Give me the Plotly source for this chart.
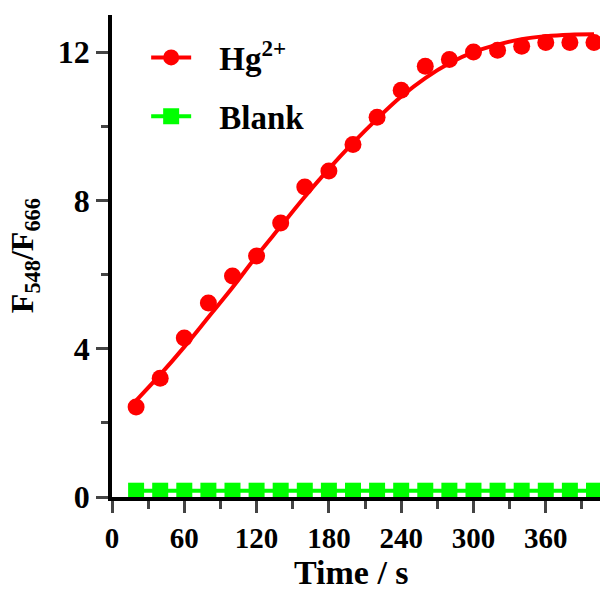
import plotly.graph_objects as go

time_s = [20, 40, 60, 80, 100, 120, 140, 160, 180, 200,
          220, 240, 260, 280, 300, 320, 340, 360, 380, 400]
hg_ratio = [2.43, 3.20, 4.29, 5.23, 5.96, 6.50, 7.39, 8.36, 8.79, 9.51,
            10.24, 10.97, 11.62, 11.80, 12.00, 12.05, 12.16, 12.26, 12.26, 12.26]
hg_fit = [2.60, 3.30, 4.05, 4.85, 5.65, 6.50, 7.30, 8.10, 8.85, 9.55,
          10.20, 10.80, 11.30, 11.70, 12.00, 12.20, 12.35, 12.43, 12.47, 12.48]
blank_ratio = [0.17, 0.17, 0.17, 0.17, 0.17, 0.17, 0.17, 0.17, 0.17, 0.17,
               0.17, 0.17, 0.17, 0.17, 0.17, 0.17, 0.17, 0.17, 0.17, 0.17]

x_ticks = [0, 60, 120, 180, 240, 300, 360]
y_ticks = [0, 4, 8, 12]

RED = "#ff0000"
GREEN = "#00ff00"
FONT = "Liberation Serif"
PAD = "\u2002\u2009"

fig = go.Figure()
fig.add_trace(go.Scatter(x=time_s, y=hg_fit, mode="lines", line=dict(color=RED, width=4, shape="spline"),
                         showlegend=False, cliponaxis=False))
fig.add_trace(go.Scatter(x=time_s, y=hg_ratio, mode="markers", marker=dict(color=RED, size=17, symbol="circle"),
                         showlegend=False, cliponaxis=False))
fig.add_trace(go.Scatter(x=[None], y=[None], mode="lines+markers", name=PAD + "Hg<sup>2+</sup>",
                         line=dict(color=RED, width=4), marker=dict(color=RED, size=17, symbol="circle"),
                         legendgroup="a"))
fig.add_trace(go.Scatter(x=time_s, y=blank_ratio, mode="lines+markers", name=PAD + "Blank",
                         line=dict(color=GREEN, width=4), marker=dict(color=GREEN, size=16, symbol="square"),
                         cliponaxis=False, legendgroup="b"))

fig.update_layout(
    width=600, height=593,
    margin=dict(l=112, r=0, t=15, b=96),
    paper_bgcolor="white", plot_bgcolor="white",
    font=dict(family=FONT, size=30, color="black"),
    legend=dict(x=0.07, y=0.97, xanchor="left", yanchor="top", bgcolor="rgba(0,0,0,0)",
                font=dict(family=FONT, size=33, color="black", weight="bold"),
                tracegroupgap=13, itemwidth=40),
    xaxis=dict(range=[0, 405], tickvals=x_ticks, ticks="outside", ticklen=12, tickwidth=3,
               showline=True, linewidth=3.5, linecolor="black", showgrid=False, zeroline=False,
               tickfont=dict(family=FONT, size=29, weight="bold"),
               minor=dict(tickvals=[30, 90, 150, 210, 270, 330, 390], ticks="outside", ticklen=8, tickwidth=3)),
    yaxis=dict(range=[0, 13], tickvals=y_ticks, ticks="outside", ticklen=12, tickwidth=3,
               showline=True, linewidth=3.5, linecolor="black", showgrid=False, zeroline=False,
               tickfont=dict(family=FONT, size=32, weight="bold"),
               minor=dict(tickvals=[2, 6, 10], ticks="outside", ticklen=7, tickwidth=3)),
    annotations=[
        dict(text="F<sub>548</sub>/F<sub>666</sub>", textangle=-90, xref="paper", yref="paper",
             x=-0.18, y=0.5, xanchor="center", yanchor="middle", showarrow=False,
             font=dict(family=FONT, size=32, weight="bold", color="black")),
        dict(text="Time / s", xref="paper", yref="paper", x=0.49, y=-0.2,
             xanchor="center", yanchor="bottom", showarrow=False,
             font=dict(family=FONT, size=34, weight="bold", color="black")),
    ],
)

fig.write_html("out.html")
